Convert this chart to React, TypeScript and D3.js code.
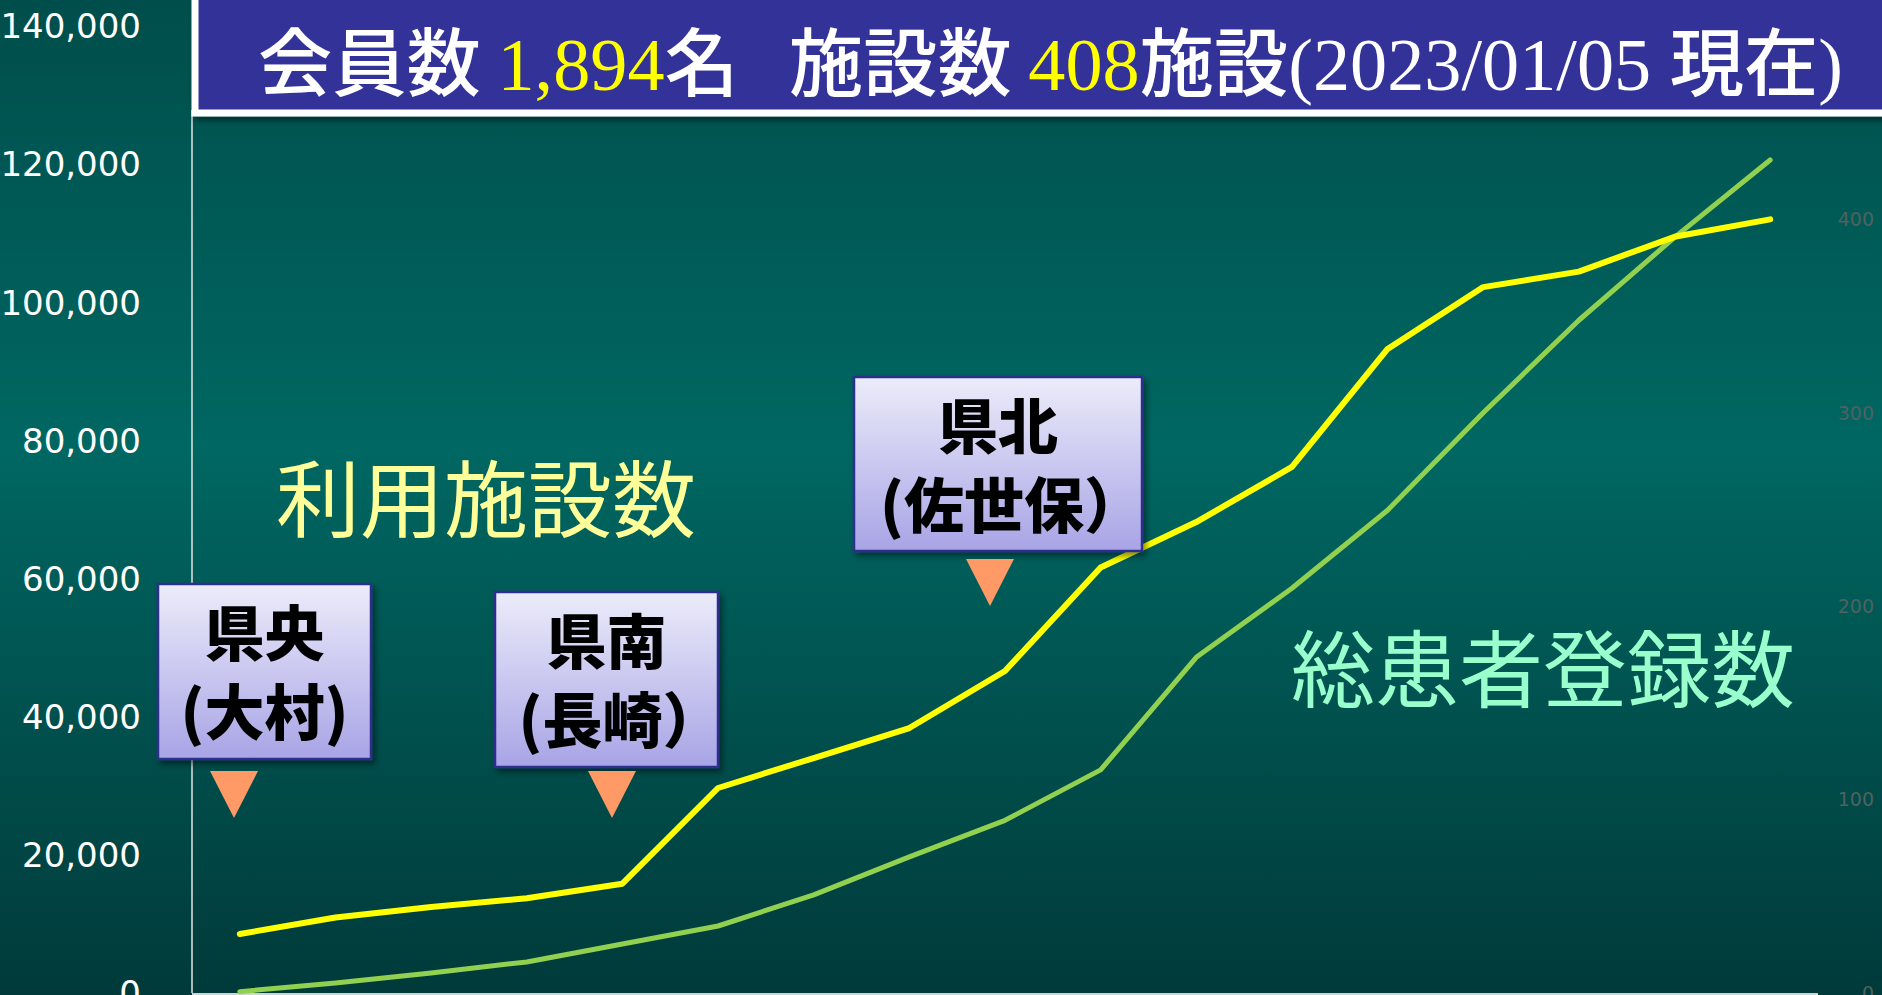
import * as d3 from 'd3'

// 17 periods, x labels are not shown on the slide
const periods = ['1', '2', '3', '4', '5', '6', '7', '8', '9', '10', '11', '12', '13', '14', '15', '16', '17']

// 総患者登録数 (left axis)
const patients = [200, 1450, 2900, 4500, 7100, 9700, 14200, 19700, 25000, 32300, 48600, 58600, 69900, 84000, 97400, 109400, 120600]

// 利用施設数 (right axis)
const facilities = [30.5, 39, 44.5, 49, 56.5, 106, 121.5, 137, 166.5, 220, 243.5, 272, 333, 365, 373, 391, 400]

const leftTicks = [0, 20000, 40000, 60000, 80000, 100000, 120000, 140000]
// 500 sits under the title banner on the slide
const rightTicks = [0, 100, 200, 300, 400]

const regionTitles = ['県央', '県南', '県北']
const regionCities = ['(大村)', '(長崎）', '(佐世保）']

const W = 1882
const H = 995
const PLOT = { left: 192, right: 1818, top: 26, bottom: 993 }

// annotation boxes (layout only)
const BOXES = [
  { x: 158, y: 584, w: 213, h: 175, tx: 234, ty: 771 },
  { x: 495, y: 592, w: 223, h: 175, tx: 612, ty: 771 },
  { x: 854, y: 377, w: 288, h: 174, tx: 990, ty: 559 },
]

const JP = '"Noto Sans CJK JP", "Noto Sans", sans-serif'
const SERIF = '"Liberation Serif", serif'

export default function App() {
  const x = d3.scaleBand().domain(periods).range([PLOT.left, PLOT.right])
  const yLeft = d3.scaleLinear().domain([0, 140000]).range([PLOT.bottom, PLOT.top])
  const yRight = d3.scaleLinear().domain([0, 500]).range([PLOT.bottom, PLOT.top])
  const cx = (p: string) => (x(p) ?? 0) + x.bandwidth() / 2

  const patientLine = d3.line<number>()
    .x((_, i) => cx(periods[i]))
    .y(d => yLeft(d))
  const facilityLine = d3.line<number>()
    .x((_, i) => cx(periods[i]))
    .y(d => yRight(d))

  const fmt = d3.format(',')

  return (
    <svg width={W} height={H} style={{ position: 'absolute', left: 0, top: 0 }}>
      <defs>
        <linearGradient id="bg" x1="0" y1="0" x2="0" y2="1">
          <stop offset="0%" stopColor="#004e4b" />
          <stop offset="45%" stopColor="#006762" />
          <stop offset="100%" stopColor="#003a3a" />
        </linearGradient>
        <linearGradient id="boxFill" x1="0" y1="0" x2="0" y2="1">
          <stop offset="0%" stopColor="#ececfa" />
          <stop offset="100%" stopColor="#a8a4e6" />
        </linearGradient>
        <filter id="shadow" x="-10%" y="-10%" width="130%" height="140%">
          <feDropShadow dx="3" dy="4" stdDeviation="3" floodColor="#000" floodOpacity="0.45" />
        </filter>
      </defs>

      <rect width={W} height={H} fill="url(#bg)" />

      {/* left axis labels */}
      {leftTicks.map(t => (
        <text key={t} x={141} y={yLeft(t)} dy="0.36em" textAnchor="end"
          fill="#ffffff" fontSize={34} fontFamily='"DejaVu Sans", sans-serif'>
          {fmt(t)}
        </text>
      ))}

      {/* right axis labels */}
      {rightTicks.map(t => (
        <text key={t} x={1874} y={yRight(t)} dy="0.36em" textAnchor="end"
          fill="#4f625f" fontSize={19} fontFamily='"DejaVu Sans", sans-serif'>
          {t}
        </text>
      ))}

      {/* axes */}
      <line x1={PLOT.left} x2={PLOT.left} y1={110} y2={PLOT.bottom} stroke="#e4e4e4" strokeWidth={1.5} />
      <line x1={PLOT.left} x2={PLOT.right} y1={PLOT.bottom + 1} y2={PLOT.bottom + 1} stroke="#cfd4d4" strokeWidth={2} />

      {/* series labels */}
      <text x={276} y={501} dy="0.36em" fill="#ffff99" fontSize={84} fontFamily={JP}>利用施設数</text>
      <text x={1291} y={671} dy="0.36em" fill="#99ffcc" fontSize={84} fontFamily={JP}>総患者登録数</text>

      {/* lines */}
      <path d={patientLine(patients) ?? ''} fill="none" stroke="#92d050" strokeWidth={5} strokeLinecap="round" strokeLinejoin="round" />
      <path d={facilityLine(facilities) ?? ''} fill="none" stroke="#ffff00" strokeWidth={6} strokeLinecap="round" strokeLinejoin="round" />

      {/* region annotations */}
      {BOXES.map((b, i) => (
        <g key={i}>
          <rect x={b.x} y={b.y} width={b.w} height={b.h} fill="url(#boxFill)" stroke="#2e2e8e" strokeWidth={2.5} filter="url(#shadow)" />
          <text x={b.x + b.w / 2} y={b.y + 50} dy="0.36em" textAnchor="middle" fontSize={60} fontWeight={800} fontFamily={JP} fill="#000">
            {regionTitles[i]}
          </text>
          <text x={b.x + b.w / 2} y={b.y + 129} dy="0.36em" dx={regionCities[i].endsWith('）') ? 14 : 0}
            textAnchor="middle" fontSize={60} fontWeight={800} fontFamily={JP} fill="#000">
            {regionCities[i]}
          </text>
          <path d={`M${b.tx - 24},${b.ty}L${b.tx + 24},${b.ty}L${b.tx},${b.ty + 47}Z`} fill="#ff9966" />
        </g>
      ))}

      {/* title banner */}
      <rect x={195} y={-20} width={1720} height={133} fill="#333399" stroke="#ffffff" strokeWidth={7} filter="url(#shadow)" />
      <text x={258} y={90} fontSize={74} fill="#ffffff" fontFamily={JP} textLength={1585} lengthAdjust="spacingAndGlyphs">
        <tspan fontWeight={500}>会員数 </tspan>
        <tspan fill="#ffff00" fontFamily={SERIF}>1,894</tspan>
        <tspan fontWeight={500}>{'名\u00a0\u00a0\u00a0施設数 '}</tspan>
        <tspan fill="#ffff00" fontFamily={SERIF}>408</tspan>
        <tspan fontWeight={500}>施設</tspan>
        <tspan fontFamily={SERIF}>{'(2023/01/05 '}</tspan>
        <tspan fontWeight={500}>現在</tspan>
        <tspan fontFamily={SERIF}>)</tspan>
      </text>
    </svg>
  )
}
